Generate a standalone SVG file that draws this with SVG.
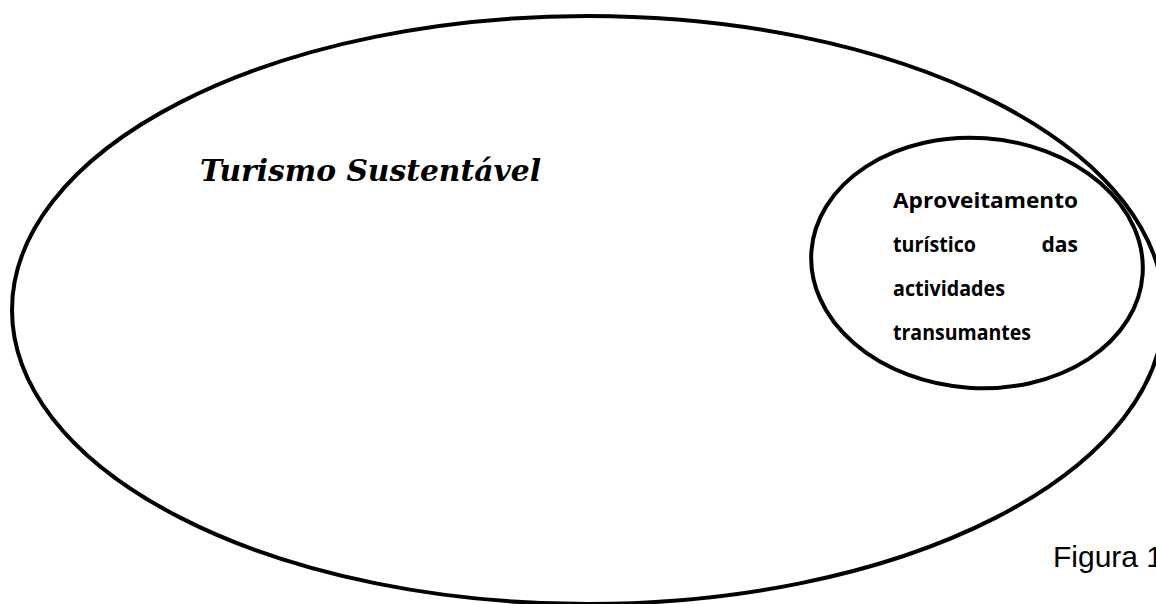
<svg xmlns="http://www.w3.org/2000/svg" width="1156" height="604" viewBox="0 0 1156 604">
<style>
.ring{fill:none;stroke:#000;stroke-width:4}
.title{font-family:"DejaVu Serif","Liberation Serif",serif;font-weight:bold;font-style:italic;font-size:30px;fill:#000}
.lbl{font-family:"Open Sans","Noto Sans","Liberation Sans",sans-serif;font-weight:bold;font-size:21px;fill:#000}
.cap{font-family:"Liberation Sans",Arial,sans-serif;font-size:30px;fill:#000}
</style>
<rect width="1156" height="604" fill="#fff"/>
<g id="turismo-sustentavel">
<ellipse class="ring" cx="588" cy="310" rx="576" ry="294"/>
<text class="title" x="200" y="181" textLength="341" lengthAdjust="spacingAndGlyphs">Turismo Sustentável</text>
</g>
<g id="aproveitamento">
<ellipse class="ring" cx="977" cy="263" rx="166" ry="125" transform="rotate(4 977 263)"/>
<text class="lbl" x="893" y="208" textLength="185" lengthAdjust="spacingAndGlyphs">Aproveitamento</text>
<text class="lbl" x="893" y="252" textLength="83" lengthAdjust="spacingAndGlyphs">turístico</text>
<text class="lbl" x="1078" y="252" text-anchor="end">das</text>
<text class="lbl" x="893" y="296" textLength="112" lengthAdjust="spacingAndGlyphs">actividades</text>
<text class="lbl" x="893" y="340" textLength="138" lengthAdjust="spacingAndGlyphs">transumantes</text>
</g>
<g id="connectors"></g>
<text class="cap" x="1053" y="567">Figura 1</text>
</svg>
